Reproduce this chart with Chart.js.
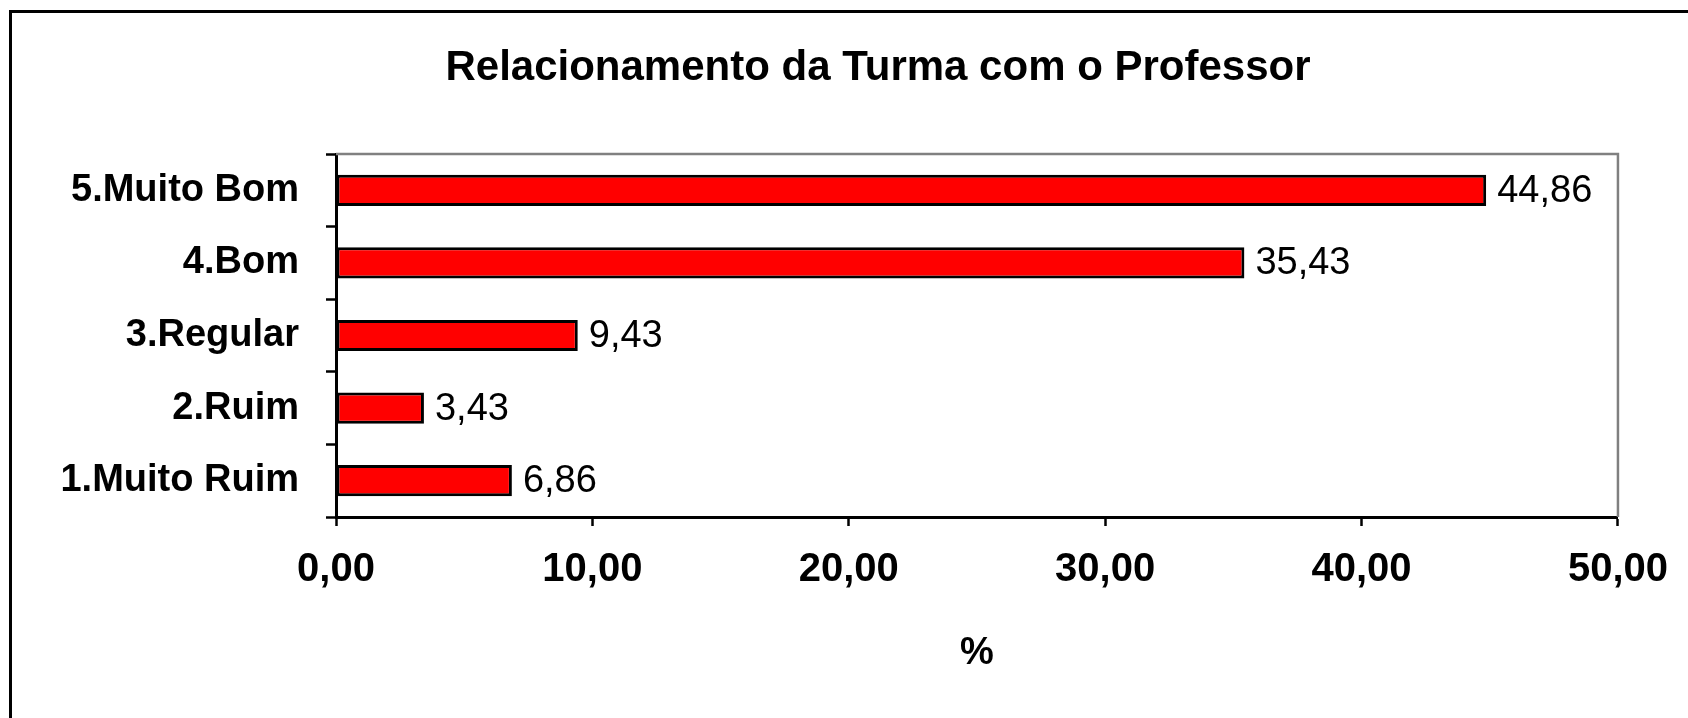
<!DOCTYPE html>
<html>
<head>
<meta charset="utf-8">
<script src="https://cdn.jsdelivr.net/npm/chart.js@4/dist/chart.umd.min.js"></script>
<style>
  html, body { margin: 0; padding: 0; background: #fff; overflow: hidden; }
  #wrap { position: relative; width: 1688px; height: 718px; }
  #frame { position: absolute; left: 9px; top: 10px; width: 1800px; height: 800px;
           border-left: 3px solid #000; border-top: 3px solid #000; pointer-events: none; }
  canvas { position: absolute; left: 0; top: 0; }
</style>
</head>
<body>
<div id="wrap">
  <canvas id="c" width="1688" height="718"></canvas>
  <div id="frame"></div>
</div>
<script>
const titleText = 'Relacionamento da Turma com o Professor';
const categories = ['5.Muito Bom', '4.Bom', '3.Regular', '2.Ruim', '1.Muito Ruim'];
const percentValues = [44.86, 35.43, 9.43, 3.43, 6.86];
const xTickMin = 0, xTickMax = 50, xTickStep = 10;
const xAxisTitle = '%';

const FONT = "'Liberation Sans', Arial, sans-serif";
const fmt = v => v.toFixed(2).replace('.', ',');

const chartTitle = {
  id: 'chartTitle',
  afterDraw(chart) {
    const ctx = chart.ctx;
    ctx.save();
    ctx.font = "bold 42px " + FONT;
    ctx.fillStyle = '#000';
    ctx.textAlign = 'center';
    ctx.textBaseline = 'middle';
    ctx.fillText(titleText, 878, 68);
    ctx.restore();
  }
};

const valueLabels = {
  id: 'valueLabels',
  afterDatasetsDraw(chart) {
    const ctx = chart.ctx;
    const meta = chart.getDatasetMeta(0);
    ctx.save();
    ctx.font = "38px " + FONT;
    ctx.fillStyle = '#000';
    ctx.textAlign = 'left';
    ctx.textBaseline = 'middle';
    meta.data.forEach((bar, i) => {
      ctx.fillText(fmt(chart.data.datasets[0].data[i]), bar.x + 11, bar.y + 1);
    });
    ctx.restore();
  }
};

const plotFrame = {
  id: 'plotFrame',
  beforeDatasetsDraw(chart) {
    const {ctx, chartArea: a} = chart;
    ctx.save();
    ctx.strokeStyle = '#808080';
    ctx.lineWidth = 2.5;
    ctx.beginPath();
    ctx.moveTo(a.left, a.top);
    ctx.lineTo(a.right, a.top);
    ctx.lineTo(a.right, a.bottom);
    ctx.stroke();
    ctx.restore();
  }
};

new Chart(document.getElementById('c'), {
  type: 'bar',
  data: {
    labels: categories,
    datasets: [{
      data: percentValues,
      backgroundColor: '#FF0000',
      borderColor: '#000',
      borderWidth: 3,
      borderSkipped: false,
      barPercentage: 0.43,
      categoryPercentage: 1
    }]
  },
  options: {
    indexAxis: 'y',
    responsive: false,
    animation: false,
    devicePixelRatio: 1,
    layout: { padding: { left: 0, right: 70, top: 154, bottom: 0 } },
    plugins: {
      legend: { display: false },
      tooltip: { enabled: false },
      title: { display: false }
    },
    scales: {
      y: {
        afterFit(scale) { scale.width = 336; },
        grid: { drawOnChartArea: false, color: '#000', tickLength: 10, tickWidth: 2.5, offset: true },
        border: { color: '#000', width: 3 },
        ticks: { color: '#000', padding: 27, font: { family: FONT, size: 38, weight: 'bold' } }
      },
      x: {
        min: xTickMin,
        max: xTickMax,
        afterFit(scale) { scale.height = 201; },
        grid: { drawOnChartArea: false, color: '#000', tickLength: 9, tickWidth: 2.5 },
        border: { color: '#000', width: 3 },
        ticks: {
          stepSize: xTickStep,
          color: '#000',
          padding: 20,
          font: { family: FONT, size: 40, weight: 'bold' },
          callback: v => fmt(v)
        },
        title: {
          display: true,
          text: xAxisTitle,
          color: '#000',
          font: { family: FONT, size: 38, weight: 'bold' },
          padding: { top: 0, bottom: 42 }
        }
      }
    }
  },
  plugins: [valueLabels, plotFrame, chartTitle]
});
</script>
</body>
</html>
